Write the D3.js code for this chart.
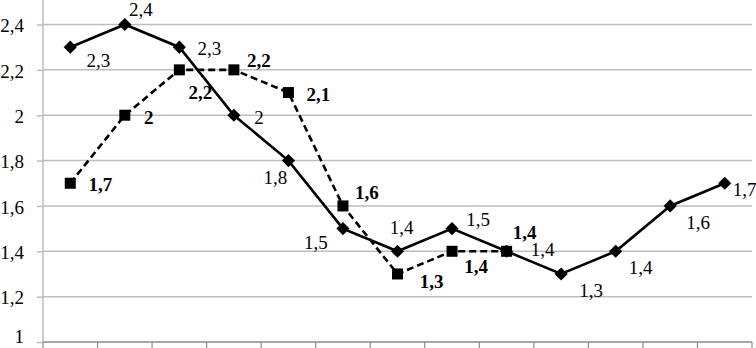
<!DOCTYPE html>
<html><head><meta charset="utf-8">
<script src="https://cdn.jsdelivr.net/npm/d3@7"></script>
<style>body{margin:0;background:#fff}svg{display:block}</style>
</head><body>
<svg id="c" width="756" height="348"></svg>
<script>
const categories = ["1","2","3","4","5","6","7","8","9","10","11","12","13"];
const series1 = [2.3, 2.4, 2.3, 2.0, 1.8, 1.5, 1.4, 1.5, 1.4, 1.3, 1.4, 1.6, 1.7];
const series2 = [1.7, 2.0, 2.2, 2.2, 2.1, 1.6, 1.3, 1.4, 1.4];
const yTicks = [1, 1.2, 1.4, 1.6, 1.8, 2, 2.2, 2.4];
// label placements (pixel offsets from point)
const labelPos1 = [[28,13],[16,-15],[30,1],[25,2],[-13,17],[-27,14],[4,-24],[26,-9],[36,-2],[30,16],[25,16],[28,16],[20,6]];
const labelPos2 = [[30,1],[24,2],[21,22],[25,-10],[30,2],[24,-14],[34,7],[24,15],[18,-19]];

const FONT = "'Liberation Serif','Times New Roman',serif";
const svg = d3.select("#c");
const x0 = 43, x1 = 752, yTop = 24.5, yBot = 342;
const x = d3.scaleBand().domain(categories).range([x0, x1]);
const y = d3.scaleLinear().domain([1, 2.4]).range([yBot, yTop]);
const cx = i => x(categories[i]) + x.bandwidth()/2;
const fmt = v => String(v).replace(".", ",");

// gridlines
svg.append("g").selectAll("line").data(yTicks.filter(t => t > 1)).join("line")
  .attr("x1", x0).attr("x2", x1).attr("y1", d => y(d)).attr("y2", d => y(d))
  .attr("stroke", "#bdbdbd").attr("stroke-width", 1.5);

// y axis line
svg.append("line").attr("x1", x0).attr("x2", x0).attr("y1", 0).attr("y2", yBot)
  .attr("stroke", "#bdbdbd").attr("stroke-width", 1.5);

// y axis labels + small ticks
const ya = d3.axisLeft(y).tickValues(yTicks).tickSize(6).tickFormat(fmt);
const yg = svg.append("g").attr("transform", `translate(${x0},0)`).call(ya);
yg.select(".domain").remove();
yg.selectAll(".tick line").attr("stroke", "#bdbdbd").attr("stroke-width", 1.5);
yg.selectAll(".tick text").style("font-family", FONT)
  .style("font-size", "19px").attr("fill", "#000").attr("x", -19)
  .attr("dy", d => d === 1 ? "0.05em" : "0.38em");

// x axis
const xg = svg.append("g").attr("transform", `translate(0,${yBot})`);
xg.append("line").attr("x1", x0).attr("x2", x1).attr("y1", 0).attr("y2", 0).attr("stroke", "#8a8a8a").attr("stroke-width", 1.5);
const bounds = d3.range(categories.length + 1).map(i => x0 + i * x.bandwidth());
xg.selectAll("line.tk").data(bounds).join("line").attr("class","tk")
  .attr("x1", d => d).attr("x2", d => d).attr("y1", 0).attr("y2", 6)
  .attr("stroke", "#8a8a8a").attr("stroke-width", 1.2);

const line = d3.line().x((d,i) => cx(i)).y(d => y(d));

// series 2 dashed
svg.append("path").datum(series2).attr("d", line).attr("fill", "none")
  .attr("stroke", "#000").attr("stroke-width", 2.6).attr("stroke-dasharray", "7,4");
// series 1 solid
svg.append("path").datum(series1).attr("d", line).attr("fill", "none")
  .attr("stroke", "#000").attr("stroke-width", 2.6);

// markers
svg.append("g").selectAll("rect").data(series2).join("rect")
  .attr("x", (d,i) => cx(i) - 5.5).attr("y", d => y(d) - 5.5)
  .attr("width", 11).attr("height", 11).attr("fill", "#000");
svg.append("g").selectAll("path").data(series1).join("path")
  .attr("d", d3.symbol(d3.symbolDiamond2 || d3.symbolDiamond, 110))
  .attr("transform", (d,i) => `translate(${cx(i)},${y(d)})`).attr("fill", "#000");

// labels
svg.append("g").selectAll("text").data(series1).join("text")
  .attr("x", (d,i) => cx(i) + labelPos1[i][0]).attr("y", (d,i) => y(d) + labelPos1[i][1])
  .attr("text-anchor", "middle").attr("dy", "0.35em")
  .style("font-family", FONT).style("font-size", "19px")
  .attr("fill", "#000").text(fmt);
svg.append("g").selectAll("text").data(series2).join("text")
  .attr("x", (d,i) => cx(i) + labelPos2[i][0]).attr("y", (d,i) => y(d) + labelPos2[i][1])
  .attr("text-anchor", "middle").attr("dy", "0.35em")
  .style("font-family", FONT).style("font-size", "19px")
  .style("font-weight", "bold").attr("fill", "#000").text(fmt);
</script>
</body></html>
